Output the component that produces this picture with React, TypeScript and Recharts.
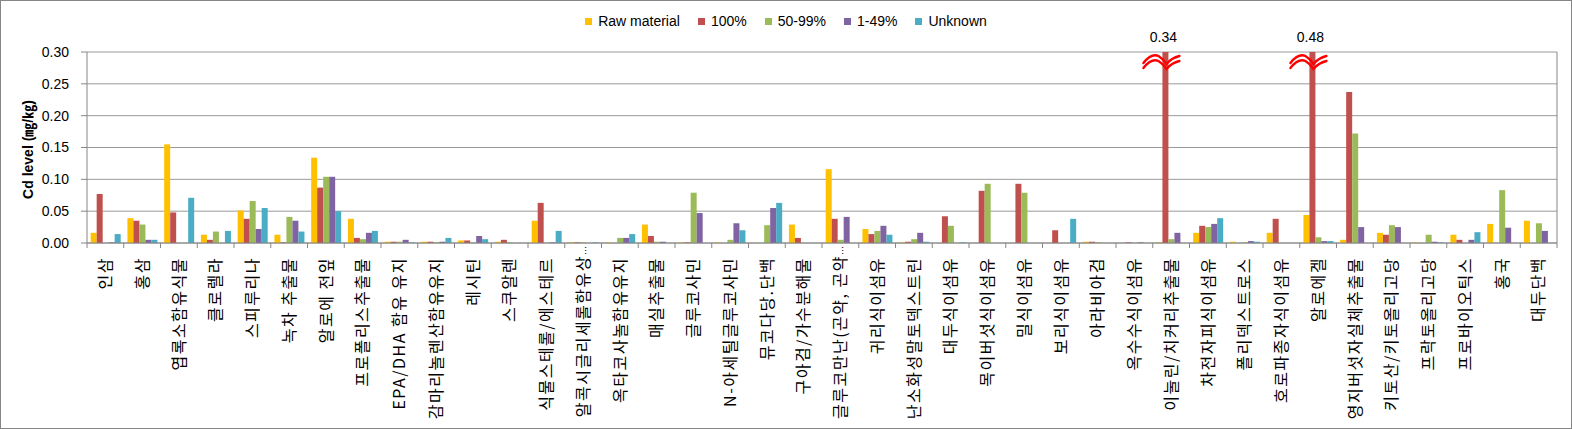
import React from 'react';
import { BarChart, Bar, XAxis, YAxis, CartesianGrid, Legend, LabelList, ReferenceLine, Label } from 'recharts';

const categories = [
  '인삼', '홍삼', '엽록소함유식물', '클로렐라', '스피루리나', '녹차 추출물', '알로에 전잎', '프로폴리스추출물',
  'EPA/DHA 함유 유지', '감마리놀렌산함유유지', '레시틴', '스쿠알렌', '식물스테롤/에스테르', '알콕시글리세롤함유상…',
  '옥타코사놀함유유지', '매실추출물', '글루코사민', 'N-아세틸글루코사민', '뮤코다당.단백', '구아검/가수분해물',
  '글루코만난(곤약, 곤약…', '귀리식이섬유', '난소화성말토덱스트린', '대두식이섬유', '목이버섯식이섬유', '밀식이섬유',
  '보리식이섬유', '아라비아검', '옥수수식이섬유', '이눌린/치커리추출물', '차전자피식이섬유', '폴리덱스트로스',
  '호로파종자식이섬유', '알로에겔', '영지버섯자실체추출물', '키토산/키토올리고당', '프락토올리고당', '프로바이오틱스',
  '홍국', '대두단백',
];

const rawMaterial = [0.016, 0.039, 0.155, 0.013, 0.051, 0.013, 0.134, 0.038, 0.002, 0.002, 0.004, 0.002, 0.035, 0.001, 0.001, 0.029, 0.001, 0.001, 0, 0.029, 0.116, 0.022, 0.001, 0, 0, 0, 0, 0.002, 0, 0.001, 0.016, 0.002, 0.016, 0.044, 0.005, 0.016, 0.001, 0.013, 0.030, 0.035];
const pct100 = [0.077, 0.035, 0.048, 0.005, 0.038, 0.001, 0.087, 0.008, 0.002, 0.002, 0.004, 0.005, 0.063, 0.001, 0, 0.011, 0.001, 0, 0, 0.008, 0.038, 0.014, 0.002, 0.042, 0.082, 0.093, 0.020, 0.002, 0.001, 0.34, 0.027, 0, 0.038, 0.48, 0.237, 0.013, 0, 0.005, 0, 0];
const pct50to99 = [0, 0.029, 0, 0.018, 0.066, 0.041, 0.104, 0.006, 0.002, 0.001, 0.001, 0.001, 0, 0.001, 0.008, 0.002, 0.079, 0.005, 0.028, 0, 0.005, 0.019, 0.006, 0.027, 0.093, 0.079, 0, 0.001, 0, 0.006, 0.025, 0.001, 0, 0.009, 0.172, 0.028, 0.013, 0, 0.083, 0.031];
const pct1to49 = [0.001, 0.005, 0, 0, 0.022, 0.035, 0.104, 0.016, 0.005, 0.002, 0.011, 0, 0.001, 0, 0.008, 0.002, 0.047, 0.031, 0.055, 0, 0.041, 0.027, 0.016, 0, 0, 0, 0, 0, 0.001, 0.016, 0.030, 0.003, 0, 0.003, 0.025, 0.025, 0.002, 0.005, 0.024, 0.019];
const unknown = [0.014, 0.005, 0.071, 0.019, 0.055, 0.018, 0.050, 0.019, 0.001, 0.008, 0.006, 0, 0.019, 0.001, 0.014, 0, 0, 0.020, 0.063, 0, 0, 0.013, 0.002, 0.001, 0, 0, 0.038, 0, 0, 0, 0.039, 0.002, 0, 0.003, 0, 0, 0.001, 0.017, 0, 0];

const seriesNames = ['Raw material', '100%', '50-99%', '1-49%', 'Unknown'];
const seriesKeys = ['raw', 'p100', 'p50', 'p1', 'unk'];
const seriesColors = ['#FFC000', '#C0504D', '#9BBB59', '#8064A2', '#4BACC6'];

const yTicks = [0, 0.05, 0.1, 0.15, 0.2, 0.25, 0.3];
const Y_MAX = 0.3;

const data = categories.map((name, i) => ({
  name,
  raw: rawMaterial[i],
  p100: pct100[i],
  p50: pct50to99[i],
  p1: pct1to49[i],
  unk: unknown[i],
}));

const FONT = "'Liberation Sans', 'Noto Sans CJK KR', sans-serif";
const KFONT = "'Noto Sans CJK KR', 'Liberation Sans', sans-serif";
const AXIS = '#868686';

const CategoryTick = (props: any) => {
  const { x, y, payload, index } = props;
  const half = payload && payload.offset ? payload.offset : 0;
  const label: string = String(payload.value);
  const truncated = label.endsWith('…');
  const main = truncated ? label.slice(0, -1) : label;
  const ty = y + (truncated ? 3 : 14);
  return (
    <g>
      <line x1={x + half} x2={x + half} y1={y} y2={y + 5} stroke={AXIS} />
      {index === 0 && <line x1={x - half} x2={x - half} y1={y} y2={y + 5} stroke={AXIS} />}
      <text
        x={x}
        y={ty}
        dy="0.36em"
        transform={`rotate(-90 ${x} ${ty})`}
        textAnchor="end"
        fontSize={16}
        letterSpacing={1.5}
        fontFamily={KFONT}
        fill="#000"
      >
        {main}
        {truncated && <tspan fontSize={9} letterSpacing={0}>…</tspan>}
      </text>
    </g>
  );
};

const BreakLabel = (props: any) => {
  const { x, y, width, value } = props;
  if (value == null || value <= Y_MAX) return null;
  const cx = x + width / 2;
  const t = y;
  const wave = (d: number) =>
    `M ${cx - 22} ${t + 11 + d} Q ${cx - 14} ${t + 1 + d} ${cx - 7} ${t + 4 + d} Q ${cx - 2} ${t + 7 + d} ${cx + 1} ${t + 12 + d} Q ${cx + 6} ${t + 6 + d} ${cx + 14} ${t + 4 + d}`;
  return (
    <g>
      <path d={wave(0)} stroke="#FF0000" strokeWidth={2.4} fill="none" strokeLinecap="round" />
      <path d={wave(5)} stroke="#FF0000" strokeWidth={2.4} fill="none" strokeLinecap="round" />
      <text x={cx - 2} y={t - 10} textAnchor="middle" fontSize={14} fontFamily={FONT} fill="#000">
        {value.toFixed(2)}
      </text>
    </g>
  );
};

const LegendContent = () => (
  <div
    style={{
      display: 'flex',
      justifyContent: 'center',
      alignItems: 'center',
      gap: 18,
      height: 20,
      fontSize: 14,
      fontFamily: FONT,
      color: '#000',
    }}
  >
    {seriesNames.map((n, i) => (
      <div key={n} style={{ display: 'flex', alignItems: 'center' }}>
        <span style={{ display: 'inline-block', width: 7, height: 7, background: seriesColors[i], marginRight: 6 }} />
        <span>{n}</span>
      </div>
    ))}
  </div>
);

const YLabel = (props: any) => {
  const vb = props.viewBox || { x: 0, y: 52, width: 87, height: 191 };
  const lx = vb.x + 28;
  const ly = vb.y + vb.height / 2 + 2;
  return (
    <text
      x={lx}
      y={ly}
      dy="0.36em"
      transform={`rotate(-90 ${lx} ${ly})`}
      textAnchor="middle"
      fontSize={14}
      fontWeight="bold"
      fontFamily={FONT}
      fill="#000"
    >
      Cd level (㎎/㎏)
    </text>
  );
};

export default function App() {
  return (
    <div style={{ position: 'relative', width: 1572, height: 429 }}>
      <style>{'body{margin:0;}'}</style>
      <BarChart
        width={1572}
        height={429}
        data={data}
        margin={{ top: 32, right: 15, bottom: 0, left: 0 }}
        barCategoryGap="10%"
        barGap={0}
      >
        <Legend
          verticalAlign="top"
          content={<LegendContent />}
          wrapperStyle={{ top: 11, left: 0, width: 1572 }}
        />
        <CartesianGrid vertical={false} stroke="#9A9A9A" />
        <XAxis
          dataKey="name"
          interval={0}
          height={186}
          tickLine={false}
          tickSize={0}
          tickMargin={0}
          stroke={AXIS}
          tick={<CategoryTick />}
        />
        <YAxis
          domain={[0, Y_MAX]}
          ticks={yTicks}
          width={87}
          tickSize={6}
          tickMargin={12}
          stroke={AXIS}
          tick={{ fill: '#000', fontSize: 14, fontFamily: FONT }}
          tickFormatter={(v: number) => v.toFixed(2)}
        >
          <Label content={<YLabel />} />
        </YAxis>
        <ReferenceLine x={categories[categories.length - 1]} position="end" stroke={AXIS} />
        {seriesKeys.map((k, i) => (
          <Bar
            key={k}
            name={seriesNames[i]}
            dataKey={(d: any) => Math.min(d[k], Y_MAX)}
            fill={seriesColors[i]}
            isAnimationActive={false}
          >
            {k === 'p100' && <LabelList dataKey="p100" content={<BreakLabel />} />}
          </Bar>
        ))}
      </BarChart>
      <div
        style={{
          position: 'absolute',
          inset: 0,
          border: '1px solid #868686',
          boxSizing: 'border-box',
          pointerEvents: 'none',
        }}
      />
    </div>
  );
}
